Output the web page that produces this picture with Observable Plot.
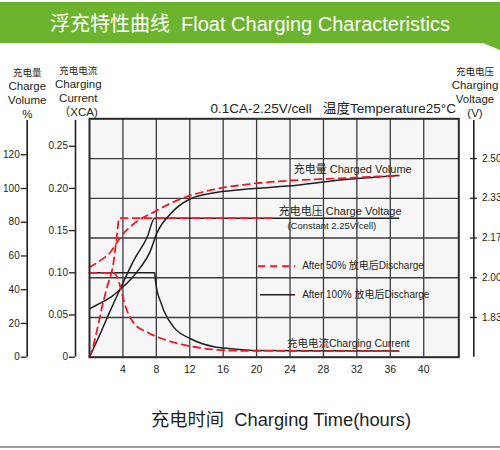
<!DOCTYPE html>
<html><head><meta charset="utf-8">
<script src="https://cdn.jsdelivr.net/npm/d3@7"></script>
<script src="https://cdn.jsdelivr.net/npm/@observablehq/plot@0.6"></script>
<style>
body{margin:0;background:#fff;}
#wrap{position:relative;width:500px;height:450px;overflow:hidden;font-family:"Liberation Sans",Arial,"Noto Sans CJK SC",sans-serif;color:#231f20;}
#chart{position:absolute;left:0;top:0;}
.abs{position:absolute;white-space:pre;}
.narrow{font-family:"Liberation Sans Narrow","Arial Narrow","Liberation Sans","Noto Sans CJK SC",sans-serif;}
#band{position:absolute;left:0;top:2px;width:500px;height:48px;background:#6cb42e;clip-path:polygon(0 0,500px 0,500px 48px,483px 41px,0 41px);}
#title{left:0;width:500px;top:11px;text-align:center;color:#fff;font-size:20px;line-height:26px;}
#sub{right:44px;top:101px;font-size:13.5px;line-height:16px;}
#xlabel{left:151px;top:408px;font-size:18.3px;line-height:24px;}
#bottomline{position:absolute;left:0;top:446px;width:500px;height:1.5px;background:#9a9a9a;}
.axt{position:absolute;transform:translateX(-50%);text-align:center;font-size:11.5px;line-height:14px;white-space:pre;}
.axt .c{font-family:"Noto Sans CJK SC",sans-serif;font-size:9.5px;}
</style></head><body>
<div id="wrap">
  <div id="band"></div>
  <div class="abs" id="title">浮充特性曲线  Float Charging Characteristics</div>
  <div class="abs" id="sub">0.1CA-2.25V/cell   温度Temperature25°C</div>
  <div class="axt narrow" style="left:27.3px;top:64.7px;"><div class="c">充电量</div><div>Charge</div><div>Volume</div><div>%</div></div>
  <div class="axt narrow" style="left:78.3px;top:63px;"><div class="c">充电电流</div><div>Charging</div><div>Current</div><div>（XCA)</div></div>
  <div class="axt narrow" style="left:475px;top:64px;"><div class="c">充电电压</div><div>Charging</div><div>Voltage</div><div>(V)</div></div>
  <div id="chart"></div>
  <div class="abs" id="xlabel">充电时间  Charging Time(hours)</div>
  <div id="bottomline"></div>
</div>
<script>
// ---- tick labels ----
const xTicks = [4, 8, 12, 16, 20, 24, 28, 32, 36, 40];
const currentTicks = [0, 0.05, 0.10, 0.15, 0.20, 0.25];
const currentTickLabels = ["0", "0.05", "0.10", "0.15", "0.20", "0.25"];
const volumeTicks = [0, 20, 40, 60, 80, 100, 120];
const volumeTickLabels = ["0", "20", "40", "60", "80", "100", "120"];
const voltageTicks = [1.8333, 2.0, 2.1667, 2.3333, 2.5];
const voltageTickLabels = ["1.83", "2.00", "2.17", "2.33", "2.50"];

// ---- series ----
// Charged volume (%)
const hoursVol100 = [0, 1.3, 2.5, 3.7, 5.0, 6.1, 7.2, 8.1, 9.7, 12.1, 15.3, 19.3, 23.7, 30, 37];
const volume100   = [28.7, 32, 35.4, 40.3, 46.5, 53.2, 62, 74, 85, 93.9, 97.7, 99.8, 101.4, 105, 107.7];
const hoursVol50  = [0, 1.3, 2.5, 3.7, 5.3, 6.9, 7.7, 9.7, 12.1, 15.3, 19.3, 23.7, 27.7, 37];
const volume50    = [53.3, 57.3, 62.2, 71.1, 79.1, 84, 86, 91.2, 95.9, 99.8, 102.7, 104.6, 105.5, 107.7];
// Charge voltage (V/cell)
const hoursVolt100 = [0, 1.3, 2.5, 3.7, 5.3, 6.9, 7.8, 37];
const voltage100   = [1.667, 1.766, 1.863, 1.955, 2.073, 2.17, 2.25, 2.25];
const hoursVolt50  = [0, 0.3, 0.9, 1.5, 2.1, 2.9, 3.3, 3.55, 22];
const voltage50    = [1.667, 1.695, 1.78, 1.877, 1.96, 2.07, 2.184, 2.25, 2.25];
// Charging current (CA)
const hoursCur100 = [0, 7.8, 7.9, 8.1, 8.5, 8.9, 10.1, 12.1, 14.9, 16.9, 20.1, 28, 37];
const current100  = [0.1, 0.1, 0.09, 0.078, 0.066, 0.055, 0.0353, 0.0219, 0.0124, 0.0101, 0.0079, 0.0075, 0.0073];
const hoursCur50  = [0, 2.9, 3.3, 3.7, 4.1, 4.5, 5.3, 6.9, 9.3, 12.1, 14.9, 16.9, 20, 37];
const current50   = [0.1, 0.1, 0.095, 0.083, 0.067, 0.055, 0.0405, 0.0296, 0.0198, 0.013, 0.0091, 0.0079, 0.0075, 0.0071];

// ---- scale mapping (shared y = current units) ----
const xMax = 44.2;
const yMax = 0.2825;
const vMin = 1.6667, vMax = 2.6667;
const volMax = 141.3;
const voltY = v => (v - vMin) / (vMax - vMin) * yMax;
const volY = p => p / volMax * yMax;

const tbl = (hs, vs, f) => hs.map((h, i) => ({h, y: f(vs[i])}));
const id = d => d;

const red = "#e41e2b", black = "#231f20", grid = "#3d3d3d";
const FONT = '"Liberation Sans", Arial, "Noto Sans CJK SC", sans-serif';
const NARROW = '"Liberation Sans Narrow", "Arial Narrow", "Liberation Sans", "Noto Sans CJK SC", sans-serif';

const curLab = new Map(currentTicks.map((t, i) => [t, currentTickLabels[i]]));
const volTickY = volumeTicks.map(volY);
const volLab = new Map(volTickY.map((t, i) => [t, volumeTickLabels[i]]));
const voltTickY = voltageTicks.map(voltY);
const voltLab = new Map(voltTickY.map((t, i) => [t, voltageTickLabels[i]]));

const lineSolid = {x: "h", y: "y", stroke: black, strokeWidth: 1.5, curve: "monotone-x"};
const lineDash = {x: "h", y: "y", stroke: red, strokeWidth: 1.8, strokeDasharray: "7,5", curve: "monotone-x"};

const chart = Plot.plot({
  width: 500, height: 450,
  marginLeft: 89, marginRight: 41.7, marginTop: 118.3, marginBottom: 93.3,
  style: {background: "transparent", fontFamily: FONT, color: black, overflow: "visible"},
  x: {domain: [0, xMax], axis: null},
  y: {domain: [0, yMax], axis: null},
  marks: [
    Plot.frame({fill: "#f6f6f6", stroke: null}),
    Plot.ruleX(xTicks, {stroke: grid, strokeWidth: 1.3}),
    Plot.ruleY(voltTickY, {stroke: grid, strokeWidth: 1.3}),
    // black (after 100% discharge)
    Plot.line(tbl(hoursVol100, volume100, volY), lineSolid),
    Plot.line(tbl(hoursVolt100, voltage100, voltY), lineSolid),
    Plot.line(tbl(hoursCur100, current100, id), lineSolid),
    // red dashed (after 50% discharge)
    Plot.line(tbl(hoursVol50, volume50, volY), lineDash),
    Plot.line(tbl(hoursVolt50, voltage50, voltY), lineDash),
    Plot.line(tbl(hoursCur50, current50, id), lineDash),
    // legend swatches
    Plot.ruleY([0.1078], {x1: 20.24, x2: 24.67, stroke: red, strokeWidth: 1.8, strokeDasharray: "7,5"}),
    Plot.ruleY([0.0739], {x1: 20.48, x2: 24.67, stroke: black, strokeWidth: 1.5}),
    // annotations
    Plot.text(["充电量 Charged Volume"], {x: () => 31.5, y: () => 0.2224, text: id, fontSize: 11, fill: black}),
    Plot.text(["充电电压 Charge Voltage"], {x: () => 30.0, y: () => 0.1727, text: id, fontSize: 11, fill: black}),
    Plot.text(["(Constant 2.25V/cell)"], {x: () => 29.0, y: () => 0.1552, text: id, fontSize: 9.5, fill: black}),
    Plot.text(["After 50% 放电后Discharge"], {x: () => 25.45, y: () => 0.1078, text: id, textAnchor: "start", fontSize: 10, fill: black}),
    Plot.text(["After 100% 放电后Discharge"], {x: () => 25.45, y: () => 0.0739, text: id, textAnchor: "start", fontSize: 10, fill: black}),
    Plot.text(["充电电流Charging Current"], {x: () => 30.96, y: () => 0.0166, text: id, fontSize: 10.5, fill: black}),
    Plot.frame({stroke: "#2a2a2a", strokeWidth: 2}),
    // axes
    Plot.axisX(xTicks, {anchor: "bottom", tickSize: 0, tickPadding: 8, fontSize: 10.5, fontFamily: NARROW, label: null, fill: black}),
    Plot.ruleX([0], {y1: () => 0, y2: () => yMax * 0.993, dx: -14, stroke: black, strokeWidth: 1.6}),
    Plot.axisY(currentTicks, {anchor: "left", dx: -14, tickSize: 6, tickPadding: 1.5, fontSize: 10, tickFormat: d => curLab.get(d), label: null, stroke: black, fill: black, strokeWidth: 1.3}),
    Plot.ruleX([0], {y1: () => 0, y2: () => yMax * 0.993, dx: -62.3, stroke: black, strokeWidth: 1.6}),
    Plot.axisY(volTickY, {anchor: "left", dx: -62.3, tickSize: 6, tickPadding: 1.5, fontSize: 10, tickFormat: d => volLab.get(d), label: null, stroke: black, fill: black, strokeWidth: 1.3}),
    Plot.ruleX([xMax], {y1: () => 0, y2: () => yMax * 0.993, dx: 15, stroke: black, strokeWidth: 1.6}),
    Plot.axisY(voltTickY, {anchor: "right", dx: 10.7, tickSize: 7, tickPadding: 5.5, fontSize: 10, tickFormat: d => voltLab.get(d), label: null, stroke: black, fill: black, strokeWidth: 1.3})
  ]
});
document.getElementById("chart").appendChild(chart);
</script>
</body></html>
